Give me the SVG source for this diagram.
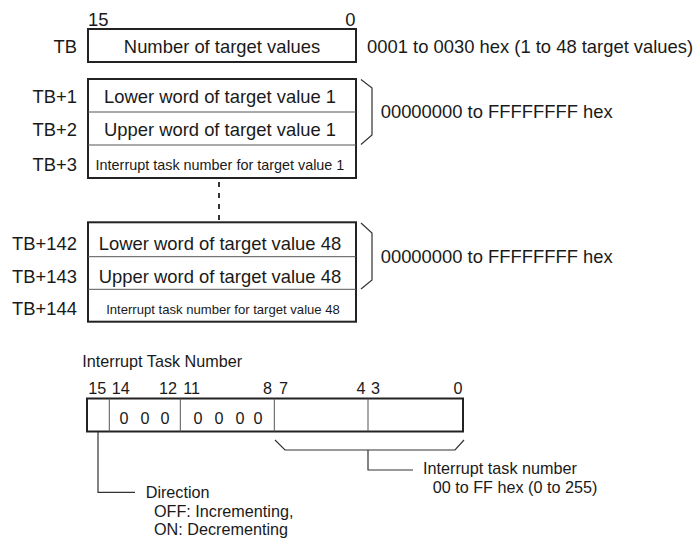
<svg xmlns="http://www.w3.org/2000/svg" width="700" height="540" viewBox="0 0 700 540">
<style>
text{font-family:"Liberation Sans",Arial,sans-serif;fill:#1a1a1a}
.m{font-size:18.4px}
.b{font-size:16.2px}
.e{text-anchor:end}
.c{text-anchor:middle}
.box{fill:#fff;stroke:#222;stroke-width:2}
.div{stroke:#555;stroke-width:1;fill:none}
.ln{stroke:#333;stroke-width:1.2;fill:none}
</style>
<rect width="700" height="540" fill="#fff"/>
<g id="bitlabels-top">
<text class="m" x="88" y="26">15</text>
<text class="m e" x="355.5" y="26">0</text>
</g>
<g id="tb">
<rect class="box" x="88" y="29" width="268" height="33"/>
<text class="m e" x="77" y="52.5">TB</text>
<text class="m c" x="222" y="52.5">Number of target values</text>
<text class="m" x="367" y="52.5">0001 to 0030 hex (1 to 48 target values)</text>
</g>
<g id="tv1">
<rect class="box" x="88" y="79" width="268" height="99"/>
<line class="div" x1="88" y1="112" x2="356" y2="112"/>
<line class="div" x1="88" y1="145" x2="356" y2="145"/>
<text class="m e" x="77" y="103">TB+1</text>
<text class="m e" x="77" y="136">TB+2</text>
<text class="m e" x="77" y="171">TB+3</text>
<text class="m c" x="220" y="103">Lower word of target value 1</text>
<text class="m c" x="220" y="136">Upper word of target value 1</text>
<text x="220" y="170" class="c" style="font-size:14.4px">Interrupt task number for target value 1</text>
<text class="m" x="380.7" y="118.3">00000000 to FFFFFFFF hex</text>
</g>
<g id="tv48">
<rect class="box" x="88" y="222.3" width="268" height="99.4"/>
<line class="div" x1="88" y1="256.7" x2="356" y2="256.7"/>
<line class="div" x1="88" y1="289.3" x2="356" y2="289.3"/>
<text class="m e" x="77" y="249.5">TB+142</text>
<text class="m e" x="77" y="282.5">TB+143</text>
<text class="m e" x="77" y="314.5">TB+144</text>
<text class="m c" x="220" y="249.5">Lower word of target value 48</text>
<text class="m c" x="220" y="282.5">Upper word of target value 48</text>
<text x="223" y="314" class="c" style="font-size:13.1px">Interrupt task number for target value 48</text>
<text class="m" x="380.7" y="262.5">00000000 to FFFFFFFF hex</text>
</g>
<g id="itn">
<text class="b" x="82.3" y="367">Interrupt Task Number</text>
<text class="b" x="88.3" y="394">15</text>
<text class="b" x="111.7" y="394">14</text>
<text class="b e" x="177" y="394">12</text>
<text class="b" x="183.3" y="394">11</text>
<text class="b e" x="272" y="394">8</text>
<text class="b" x="279" y="394">7</text>
<text class="b e" x="365.5" y="394">4</text>
<text class="b" x="371" y="394">3</text>
<text class="b e" x="462.5" y="394">0</text>
<rect class="box" x="87" y="398.5" width="376" height="33"/>
<line class="div" x1="109.3" y1="398.5" x2="109.3" y2="431.5"/>
<line class="div" x1="180.3" y1="398.5" x2="180.3" y2="431.5"/>
<line class="div" x1="274.3" y1="398.5" x2="274.3" y2="431.5"/>
<line class="div" x1="368" y1="398.5" x2="368" y2="431.5"/>
<text class="b c" x="124" y="423.5">0</text>
<text class="b c" x="145" y="423.5">0</text>
<text class="b c" x="165" y="423.5">0</text>
<text class="b c" x="198" y="423.5">0</text>
<text class="b c" x="219" y="423.5">0</text>
<text class="b c" x="240" y="423.5">0</text>
<text class="b c" x="258" y="423.5">0</text>
</g>
<g id="connectors">
<line x1="219" y1="182" x2="219" y2="221" stroke="#333" stroke-width="2" stroke-dasharray="5 6"/>
<polyline class="ln" points="361,79.5 372,88 372,135 361,144.5"/>
<polyline class="ln" points="361,223 372,233 372,280 361,289"/>
<polyline class="ln" points="275,440 285,450 455,450 464,440"/>
<polyline class="ln" points="368,450 368,470 413,470"/>
<polyline class="ln" points="98,431.5 98,492.3 135,492.3"/>
</g>
<g id="notes">
<text class="b" x="423" y="474">Interrupt task number</text>
<text class="b" x="432.7" y="493">00 to FF hex (0 to 255)</text>
<text class="b" x="145.7" y="498.3">Direction</text>
<text class="b" x="154" y="516.7">OFF: Incrementing,</text>
<text class="b" x="154" y="535">ON: Decrementing</text>
</g>
</svg>
